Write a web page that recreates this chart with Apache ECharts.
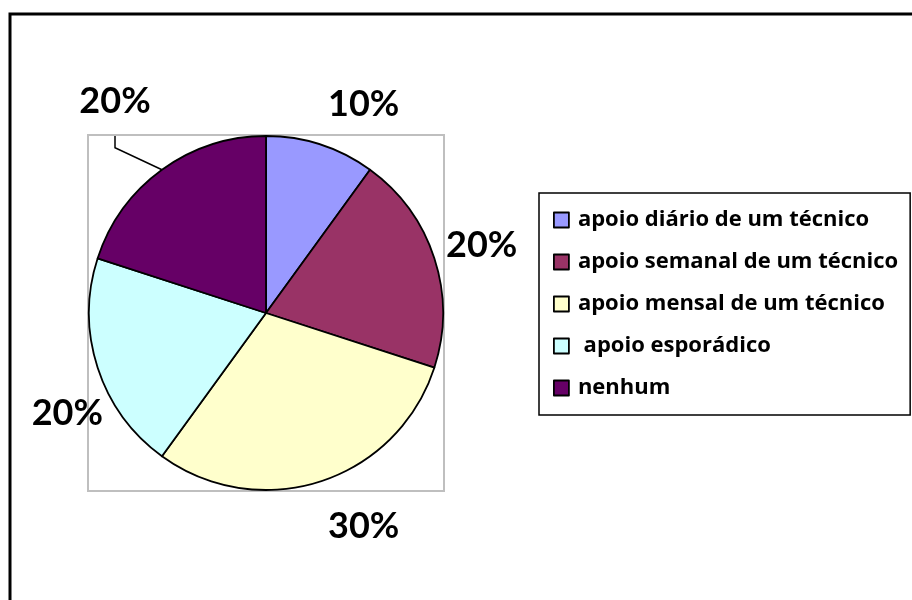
<!DOCTYPE html>
<html>
<head>
<meta charset="utf-8">
<script src="https://cdn.jsdelivr.net/npm/echarts@6/dist/echarts.min.js"></script>
<style>
  html, body { margin: 0; padding: 0; background: #fff; }
  #main { width: 912px; height: 600px; }
</style>
</head>
<body>
<div id="main"></div>
<script>
// dados do gráfico
var categorias = ['apoio diário de um técnico', 'apoio semanal de um técnico', 'apoio mensal de um técnico', ' apoio esporádico', 'nenhum'];
var valores = [10, 20, 30, 20, 20];
var cores = ['#9999FF', '#993366', '#FFFFCC', '#CCFFFF', '#660066'];

// posição das etiquetas (layout, como no original)
var posEtiqueta = [[328, 104, 'left'], [446, 245, 'left'], [328, 526, 'left'], [103, 413, 'right'], [115, 119, 'center']];

var cx = 266, cy = 313, raio = 177;

var myChart = echarts.init(document.getElementById('main'));

var dados = [];
for (var i = 0; i < categorias.length; i++) {
  dados.push({
    name: categorias[i],
    value: valores[i],
    itemStyle: { color: cores[i] },
    labelLine: { show: i == 4 }
  });
}

var option = {
  animation: false,
  graphic: [
    { // moldura exterior
      type: 'rect', z: 0, silent: true,
      shape: { x: 10, y: 14, width: 940, height: 620 },
      style: { fill: 'none', stroke: '#000', lineWidth: 3 }
    },
    { // área do gráfico
      type: 'rect', z: 0, silent: true,
      shape: { x: cx - raio - 1, y: cy - raio - 1, width: raio * 2 + 2, height: raio * 2 + 2 },
      style: { fill: 'none', stroke: '#BFBFBF', lineWidth: 2 }
    }
  ],
  legend: {
    orient: 'vertical',
    left: 539,
    top: 193,
    padding: [16, 12, 16, 14],
    itemGap: 20,
    itemWidth: 15,
    itemHeight: 15,
    icon: 'rect',
    borderColor: '#000',
    borderWidth: 1.5,
    selectedMode: false,
    itemStyle: { borderColor: '#000', borderWidth: 1.8 },
    textStyle: {
      fontFamily: 'Open Sans',
      fontWeight: 'bold',
      fontSize: 22,
      lineHeight: 20,
      padding: [0, 0, 0, 4],
      color: '#000'
    },
    data: categorias
  },
  series: [
    {
      type: 'pie',
      center: [cx, cy],
      radius: raio,
      startAngle: 90,
      clockwise: true,
      avoidLabelOverlap: false,
      emphasis: { disabled: true },
      itemStyle: { borderColor: '#000', borderWidth: 1.8 },
      label: {
        show: true,
        position: 'outside',
        formatter: '{d}%',
        fontFamily: 'Lato',
        fontWeight: 'bold',
        fontSize: 36,
        color: '#000'
      },
      labelLine: {
        length: 20,
        length2: 10,
        lineStyle: { color: '#000', width: 1.5 }
      },
      labelLayout: function (params) {
        var p = posEtiqueta[params.dataIndex];
        var res = { x: p[0], y: p[1], align: p[2], verticalAlign: p[2] == 'center' ? 'bottom' : 'middle' };
        if (params.dataIndex == 4 && params.labelLinePoints) {
          var p0 = params.labelLinePoints[0];
          res.labelLinePoints = [p0, [p[0], p0[1] - 22], [p[0], cy - raio]];
        }
        return res;
      },
      data: dados
    }
  ]
};
myChart.setOption(option);
</script>
</body>
</html>
